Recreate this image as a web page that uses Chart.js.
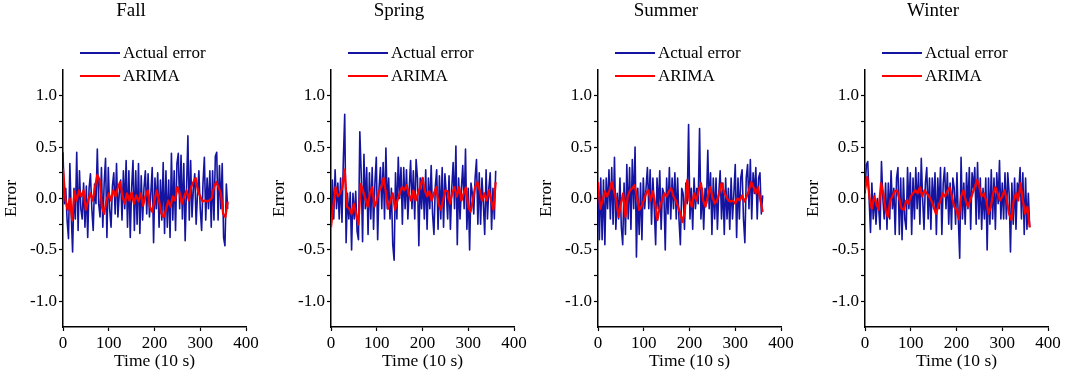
<!DOCTYPE html>
<html>
<head>
<meta charset="utf-8">
<script src="https://cdn.jsdelivr.net/npm/chart.js@4"></script>
<style>
  body { margin: 0; background: #fff; }
  #wrap { position: relative; width: 1065px; height: 385px; overflow: hidden; }
  #wrap canvas { position: absolute; top: 0; }
</style>
</head>
<body>
<div id="wrap"></div>
<script>
// time axis (10 s steps)
const timeFine = [
  0, 3, 6, 9, 12, 15, 18, 21, 24, 27,
  30, 33, 36, 39, 42, 45, 48, 51, 54, 57,
  60, 63, 66, 69, 72, 75, 78, 81, 84, 87,
  90, 93, 96, 99, 102, 105, 108, 111, 114, 117,
  120, 123, 126, 129, 132, 135, 138, 141, 144, 147,
  150, 153, 156, 159, 162, 165, 168, 171, 174, 177,
  180, 183, 186, 189, 192, 195, 198, 201, 204, 207,
  210, 213, 216, 219, 222, 225, 228, 231, 234, 237,
  240, 243, 246, 249, 252, 255, 258, 261, 264, 267,
  270, 273, 276, 279, 282, 285, 288, 291, 294, 297,
  300, 303, 306, 309, 312, 315, 318, 321, 324, 327,
  330, 333, 336, 339, 342, 345, 348, 351, 354, 357,
  360
];
const timeCoarse = [
  0, 5, 10, 15, 20, 25, 30, 35, 40, 45,
  50, 55, 60, 65, 70, 75, 80, 85, 90, 95,
  100, 105, 110, 115, 120, 125, 130, 135, 140, 145,
  150, 155, 160, 165, 170, 175, 180, 185, 190, 195,
  200, 205, 210, 215, 220, 225, 230, 235, 240, 245,
  250, 255, 260, 265, 270, 275, 280, 285, 290, 295,
  300, 305, 310, 315, 320, 325, 330, 335, 340, 345,
  350, 355, 360
];

const seasons = ["Fall", "Spring", "Summer", "Winter"];

const fallActual = [
  0.45, -0.05, 0.10, -0.21, -0.39, 0.34, -0.15, -0.52, 0.10, -0.20,
  0.45, -0.31, 0.27, -0.10, -0.20, 0.15, -0.28, 0.12, -0.38, 0.10,
  0.24, -0.10, -0.31, 0.14, -0.05, 0.48, -0.05, -0.18, 0.30, -0.28,
  0.15, 0.39, -0.38, 0.30, -0.10, -0.28, 0.12, 0.25, -0.15, 0.34,
  -0.18, 0.05, 0.18, -0.21, 0.27, -0.10, 0.37, -0.28, 0.27, -0.38,
  0.10, 0.37, -0.31, 0.27, -0.25, 0.34, -0.34, 0.22, -0.21, 0.10,
  0.27, -0.15, 0.24, -0.18, 0.05, 0.30, -0.43, 0.20, -0.10, 0.25,
  -0.28, 0.18, -0.21, 0.35, -0.34, 0.27, -0.28, 0.18, -0.38, 0.44,
  -0.21, 0.27, -0.31, 0.34, 0.44, -0.10, 0.42, -0.20, 0.34, -0.41,
  0.10, 0.61, -0.21, 0.37, -0.18, 0.10, 0.24, -0.25, 0.05, 0.27,
  -0.10, -0.31, 0.15, 0.40, -0.21, 0.20, -0.10, 0.27, -0.28, 0.27,
  -0.21, 0.41, 0.45, -0.21, 0.32, -0.10, 0.34, -0.38, -0.46, 0.14,
  -0.10
];
const fallArima = [
  0.29, 0.00, -0.11, 0.00, -0.21, 0.07, -0.02, 0.08, 0.02, 0.08,
  -0.11, -0.02, 0.05, -0.02, 0.11, 0.23, 0.18, -0.08, -0.15, -0.02,
  0.05, -0.02, 0.08, 0.02, 0.11, 0.16, 0.02, -0.05, 0.05, -0.02,
  0.06, -0.05, 0.03, -0.03, 0.05, -0.07, 0.02, 0.08, -0.08, -0.13,
  -0.02, 0.08, -0.02, -0.15, -0.18, -0.11, -0.02, -0.08, 0.02, -0.02,
  0.11, 0.05, -0.05, 0.02, 0.08, -0.02, 0.11, 0.16, 0.20, 0.07,
  0.02, -0.03, -0.02, -0.03, -0.02, 0.00, 0.11, 0.16, 0.11, 0.05,
  -0.15, -0.18, -0.03
];

const springActual = [
  -0.27, 0.18, -0.20, 0.28, -0.10, 0.15, -0.20, 0.20, -0.23, 0.38,
  0.82, -0.43, 0.05, -0.20, 0.06, -0.50, 0.05, -0.20, 0.07, -0.32,
  -0.40, 0.65, 0.25, -0.42, 0.43, -0.10, 0.30, -0.35, 0.25, -0.20,
  0.30, -0.30, 0.15, 0.40, -0.40, 0.10, 0.30, -0.10, 0.35, -0.20,
  0.49, -0.10, 0.20, -0.20, 0.10, -0.45, -0.60, 0.25, -0.20, 0.40,
  0.00, 0.30, -0.25, 0.30, -0.10, 0.28, -0.20, 0.10, 0.37, -0.10,
  0.27, -0.20, 0.38, 0.20, -0.46, 0.20, -0.10, 0.20, -0.20, 0.28,
  -0.30, 0.20, -0.10, 0.32, -0.15, -0.35, 0.12, 0.28, -0.30, 0.22,
  -0.20, 0.30, -0.28, 0.24, 0.05, -0.20, 0.22, -0.30, 0.10, 0.35,
  -0.10, 0.51, -0.45, 0.20, -0.20, 0.10, 0.32, -0.10, 0.48, -0.30,
  0.10, -0.50, 0.15, 0.05, -0.15, 0.20, 0.38, -0.25, 0.25, -0.25,
  0.20, -0.05, -0.35, 0.28, -0.20, 0.10, 0.25, -0.30, 0.10, -0.20,
  0.27
];
const springArima = [
  -0.28, -0.08, 0.11, 0.02, 0.05, 0.11, 0.28, -0.08, -0.10, -0.15,
  -0.05, -0.15, -0.25, 0.14, 0.08, 0.00, -0.08, 0.05, 0.11, -0.08,
  -0.02, 0.07, 0.11, 0.20, 0.06, -0.10, -0.02, 0.05, -0.11, -0.02,
  0.05, 0.11, 0.08, 0.13, 0.05, -0.02, 0.08, -0.02, 0.05, 0.11,
  0.20, 0.08, 0.02, 0.07, -0.02, 0.05, 0.11, -0.05, -0.11, -0.02,
  0.08, 0.07, -0.05, 0.05, 0.11, 0.02, 0.11, -0.02, 0.05, 0.11,
  -0.08, -0.13, -0.02, 0.11, 0.16, 0.08, -0.02, 0.05, -0.02, 0.08,
  -0.02, -0.11, 0.16
];

const summerActual = [
  0.15, -0.40, 0.20, -0.40, 0.18, -0.45, 0.20, -0.10, 0.28, -0.20,
  0.30, -0.25, 0.40, -0.30, 0.05, -0.20, 0.20, -0.28, -0.45, 0.15,
  -0.35, 0.33, -0.20, 0.30, -0.30, 0.38, -0.10, 0.50, -0.57, 0.10,
  -0.35, 0.15, -0.40, 0.20, -0.10, 0.10, 0.30, -0.10, 0.28, -0.25,
  0.20, -0.10, -0.45, 0.20, -0.10, 0.27, -0.30, 0.10, 0.05, -0.50,
  0.20, -0.15, 0.30, -0.20, 0.20, -0.10, 0.25, -0.20, 0.20, -0.20,
  -0.45, 0.10, 0.05, -0.30, 0.15, -0.05, 0.72, -0.20, 0.10, -0.30,
  0.20, -0.10, 0.10, -0.05, 0.68, -0.20, 0.10, -0.30, 0.10, -0.05,
  0.47, -0.10, 0.25, -0.35, 0.20, -0.20, 0.20, -0.30, 0.05, 0.27,
  -0.20, 0.15, -0.35, 0.20, -0.20, 0.10, -0.30, 0.20, -0.20, 0.05,
  0.33, -0.38, 0.20, -0.20, 0.20, 0.28, -0.20, -0.43, 0.20, 0.33,
  -0.10, 0.38, -0.20, 0.25, 0.05, 0.30, -0.20, 0.20, 0.25, -0.15,
  0.03
];
const summerArima = [
  0.16, -0.10, -0.02, 0.07, 0.02, 0.08, 0.16, 0.07, -0.02, -0.18,
  -0.05, 0.05, -0.18, 0.02, 0.08, 0.10, 0.13, 0.02, -0.11, -0.08,
  -0.02, 0.05, 0.08, -0.02, 0.07, -0.05, -0.21, -0.08, -0.02, 0.05,
  0.02, 0.07, 0.10, 0.02, -0.02, -0.08, -0.15, -0.23, -0.11, 0.18,
  -0.02, -0.08, 0.05, -0.02, 0.08, 0.15, -0.02, -0.08, 0.02, 0.11,
  0.02, -0.05, -0.02, 0.05, 0.15, 0.07, 0.02, -0.02, -0.03, -0.02,
  -0.05, 0.00, -0.02, 0.03, -0.03, 0.02, 0.08, 0.16, 0.11, 0.05,
  0.11, -0.02, -0.13
];

const winterActual = [
  0.05, 0.33, 0.36, 0.00, -0.33, 0.15, -0.20, 0.05, -0.25, 0.00,
  -0.10, -0.30, 0.36, 0.00, -0.20, 0.15, -0.30, 0.15, -0.20, 0.27,
  -0.10, 0.10, -0.35, 0.20, 0.30, -0.35, 0.20, -0.40, 0.20, -0.20,
  -0.30, 0.30, -0.10, 0.25, -0.35, 0.20, -0.20, 0.30, -0.10, 0.25,
  -0.25, 0.39, 0.00, -0.30, 0.15, 0.30, -0.20, 0.20, -0.30, 0.20,
  -0.10, 0.25, -0.35, 0.20, -0.10, 0.30, -0.35, 0.15, 0.30, -0.10,
  0.25, -0.25, 0.15, -0.30, 0.20, 0.10, -0.25, 0.25, -0.20, -0.58,
  0.40, -0.20, 0.15, -0.25, 0.25, -0.10, 0.30, -0.30, 0.25, 0.10,
  0.30, -0.25, 0.35, -0.20, 0.20, -0.30, 0.10, -0.20, 0.20, -0.50,
  0.20, -0.25, 0.28, -0.20, 0.20, -0.30, 0.25, -0.05, 0.37, -0.20,
  0.15, -0.20, 0.25, -0.20, 0.25, 0.05, -0.52, 0.15, -0.25, 0.20,
  -0.30, 0.15, 0.05, 0.30, -0.20, 0.25, -0.35, 0.20, -0.30, 0.05,
  -0.28
];
const winterArima = [
  0.08, 0.21, 0.00, -0.10, 0.02, -0.05, -0.11, 0.15, 0.05, -0.11,
  -0.18, -0.02, 0.02, 0.07, 0.08, 0.00, -0.10, -0.11, -0.02, -0.05,
  0.02, 0.05, 0.08, 0.05, 0.11, 0.02, 0.08, 0.05, 0.02, -0.02,
  -0.08, -0.15, -0.08, -0.02, 0.05, 0.02, 0.07, 0.11, 0.02, -0.08,
  -0.11, -0.20, 0.02, 0.08, -0.02, -0.08, -0.02, 0.05, 0.11, 0.18,
  0.11, 0.02, 0.05, -0.02, -0.15, -0.08, 0.05, 0.11, 0.05, -0.02,
  0.02, 0.08, -0.02, -0.15, -0.21, -0.02, 0.05, -0.02, 0.15, -0.02,
  -0.15, -0.08, -0.28
];

const actualSeries = [fallActual, springActual, summerActual, winterActual];
const arimaSeries = [fallArima, springArima, summerArima, winterArima];
const panelLeft = [0, 268, 535, 802];

Chart.defaults.font.family = '"Liberation Serif", "Times New Roman", serif';
Chart.defaults.color = "#000";

// season title + legend drawn above each panel
const headerPlugin = {
  id: "header",
  afterDraw(chart, args, opts) {
    const ctx = chart.ctx;
    const left = chart.chartArea.left;
    ctx.save();
    ctx.fillStyle = "#000";
    ctx.font = '19px "Liberation Serif"';
    ctx.textAlign = "center";
    ctx.textBaseline = "middle";
    ctx.fillText(opts.text, left + 68, 11);
    ctx.font = '17px "Liberation Serif"';
    ctx.textAlign = "left";
    chart.data.datasets.forEach((ds, i) => {
      const y = 53 + i * 23;
      ctx.strokeStyle = ds.borderColor;
      ctx.lineWidth = 2;
      ctx.beginPath();
      ctx.moveTo(left + 17, y);
      ctx.lineTo(left + 57, y);
      ctx.stroke();
      ctx.fillText(ds.label, left + 60, y + 1);
    });
    ctx.restore();
  }
};

function toPoints(xs, ys) {
  return ys.map((v, i) => ({ x: xs[i], y: v }));
}

const wrap = document.getElementById("wrap");
seasons.forEach((name, k) => {
  const canvas = document.createElement("canvas");
  canvas.width = 263;
  canvas.height = 385;
  canvas.style.left = panelLeft[k] + "px";
  wrap.appendChild(canvas);

  new Chart(canvas, {
    type: "line",
    data: {
      datasets: [
        {
          label: "Actual error",
          data: toPoints(timeFine, actualSeries[k]),
          borderColor: "#1414a0",
          borderWidth: 1.6,
          pointRadius: 0,
          borderJoinStyle: "round",
          order: 2
        },
        {
          label: "ARIMA",
          data: toPoints(timeCoarse, arimaSeries[k]),
          borderColor: "#ff0000",
          borderWidth: 2.2,
          pointRadius: 0,
          borderJoinStyle: "round",
          order: 1
        }
      ]
    },
    options: {
      responsive: false,
      animation: false,
      layout: { padding: { top: 70, right: 17, left: 0, bottom: 0 } },
      plugins: {
        legend: { display: false },
        tooltip: { enabled: false },
        header: { text: name }
      },
      scales: {
        x: {
          type: "linear",
          min: 0,
          max: 400,
          border: { color: "#000", width: 1.5 },
          grid: { drawOnChartArea: false, tickLength: 4, tickColor: "#000", tickWidth: 1.2 },
          ticks: {
            stepSize: 50,
            padding: 2,
            maxRotation: 0,
            font: { size: 17 },
            callback: (v) => (v % 100 === 0 ? String(v) : "")
          },
          title: { display: true, text: "Time (10 s)", font: { size: 17.5 }, padding: { top: 0, bottom: 13 } },
          afterFit(scale) {
            scale.height = 58;
            scale.paddingLeft = 0;
            scale.paddingRight = 0;
          }
        },
        y: {
          min: -1.25,
          max: 1.25,
          border: { color: "#000", width: 1.5 },
          grid: {
            drawOnChartArea: false,
            tickLength: 4,
            tickWidth: 1.2,
            tickColor: (c) => (Math.abs(c.tick.value) > 1.1 ? "rgba(0,0,0,0)" : "#000")
          },
          ticks: {
            stepSize: 0.25,
            padding: 2,
            font: { size: 17 },
            callback: (v) => {
              const twice = v * 2;
              if (Math.abs(twice - Math.round(twice)) > 1e-9 || Math.abs(v) > 1.1) return "";
              return v.toFixed(1);
            }
          },
          title: { display: true, text: "Error", font: { size: 17.5 }, padding: { top: 1, bottom: 0 } },
          afterFit(scale) {
            scale.width = 63;
            scale.paddingTop = 0;
            scale.paddingBottom = 0;
          }
        }
      }
    },
    plugins: [headerPlugin]
  });
});
</script>
</body>
</html>
